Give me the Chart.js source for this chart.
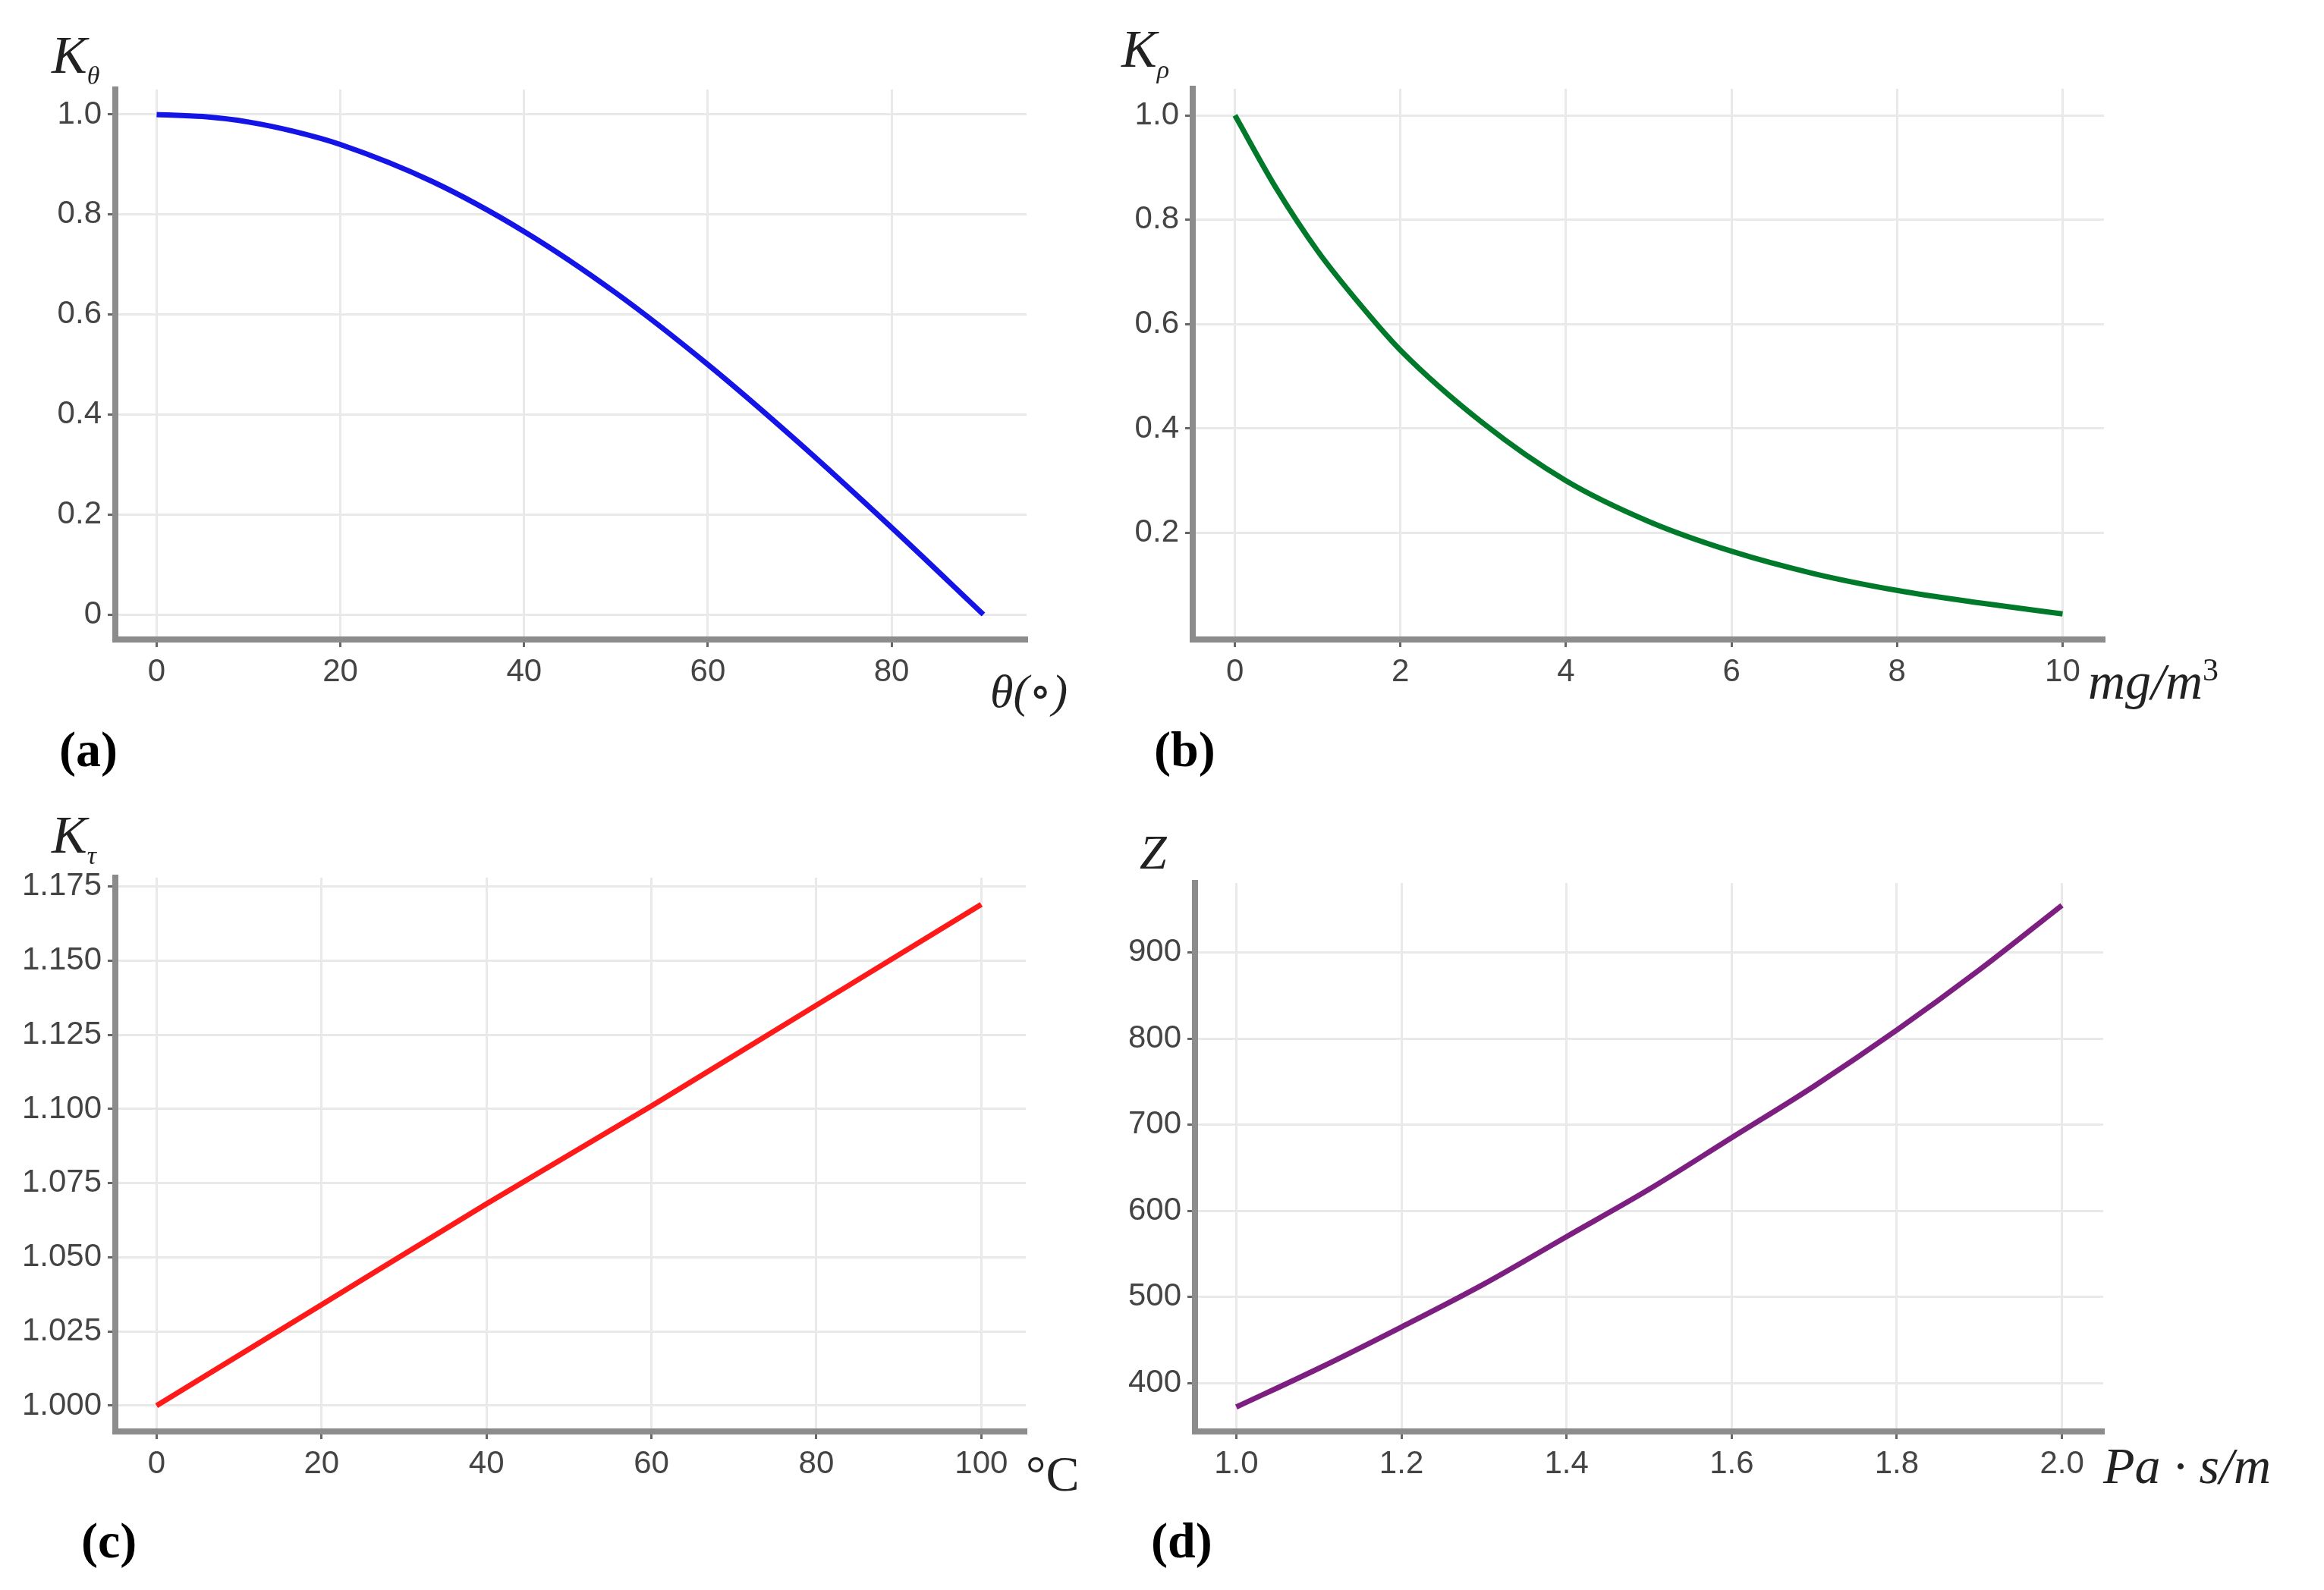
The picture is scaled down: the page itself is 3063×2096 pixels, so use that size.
<!DOCTYPE html>
<html><head><meta charset="utf-8">
<script src="https://cdn.jsdelivr.net/npm/chart.js@4"></script>
<style>
html,body{margin:0;padding:0;background:#fff;width:3063px;height:2096px;overflow:hidden;position:relative}
canvas{position:absolute}
.t{position:absolute;font-family:"Liberation Serif","DejaVu Serif",serif;color:#222;white-space:nowrap;line-height:1}
.it{font-style:italic}
.lab{font-weight:bold;font-size:66px;color:#000}
</style></head><body>
<script>
// ---- data ----
const angleX = [0,5,10,15,20,30,40,50,60,70,80,90];
const angleK = [1.0,0.996,0.985,0.966,0.94,0.866,0.766,0.643,0.5,0.342,0.174,0.0];
const dustX = [0,0.5,1,1.5,2,3,4,5,6,7,8,9,10];
const dustK = [1.0,0.86,0.74,0.64,0.55,0.41,0.30,0.222,0.165,0.122,0.09,0.066,0.045];
const tempX = [0,20,40,60,80,100];
const tempK = [1.000,1.034,1.068,1.101,1.135,1.169];
const viscX = [1.0,1.1,1.2,1.3,1.4,1.5,1.6,1.7,1.8,1.9,2.0];
const viscZ = [372,417,465,515,570,625,685,745,810,880,955];
const ticksAX=[0,20,40,60,80], ticksAY=[0,0.2,0.4,0.6,0.8,1.0];
const ticksBX=[0,2,4,6,8,10], ticksBY=[0.2,0.4,0.6,0.8,1.0];
const ticksCX=[0,20,40,60,80,100], ticksCY=[1.000,1.025,1.050,1.075,1.100,1.125,1.150,1.175];
const ticksDX=[1.0,1.2,1.4,1.6,1.8,2.0], ticksDY=[400,500,600,700,800,900];

const PAD=40, HX=80;
const panels=[
 {box:[152,118,1353,843],wy:130,x:angleX,y:angleK,c:'#1414e6',xr:[-4.5,94.7],yr:[-0.05,1.05],tx:ticksAX,ty:ticksAY,fx:v=>String(v),fy:v=>v===0?'0':v.toFixed(1)},
 {box:[1572,117,2773,843],wy:130,x:dustX,y:dustK,c:'#007a2a',xr:[-0.51,10.5],yr:[-0.004,1.051],tx:ticksBX,ty:ticksBY,fx:v=>String(v),fy:v=>v.toFixed(1)},
 {box:[152,1157,1352,1887],wy:140,x:tempX,y:tempK,c:'#ff1a1a',xr:[-5,105.4],yr:[0.9913,1.178],tx:ticksCX,ty:ticksCY,fx:v=>String(v),fy:v=>v.toFixed(3)},
 {box:[1575,1164,2772,1887],wy:130,x:viscX,y:viscZ,c:'#7d1f80',xr:[0.95,2.05],yr:[343.6,981],tx:ticksDX,ty:ticksDY,fx:v=>v.toFixed(1),fy:v=>String(v)}
];
const font={family:'"Liberation Sans","DejaVu Sans",sans-serif',size:42};
panels.forEach(p=>{
  const [l,t,r,b]=p.box;
  const cv=document.createElement('canvas');
  const left=l-p.wy-PAD, top=t-PAD, w=r+PAD-left, h=b+HX+PAD-top;
  cv.width=w;cv.height=h;cv.style.left=left+'px';cv.style.top=top+'px';
  cv.style.width=w+'px';cv.style.height=h+'px';
  document.body.appendChild(cv);
  new Chart(cv,{type:'line',
    data:{datasets:[{data:p.x.map((v,i)=>({x:v,y:p.y[i]})),borderColor:p.c,borderWidth:7,pointRadius:0,cubicInterpolationMode:'monotone',fill:false}]},
    options:{responsive:false,animation:false,devicePixelRatio:1,
      layout:{padding:PAD},
      plugins:{legend:{display:false},tooltip:{enabled:false}},
      scales:{
        x:{type:'linear',min:p.xr[0],max:p.xr[1],
          afterBuildTicks:s=>{s.ticks=p.tx.map(v=>({value:v}));},
          afterFit:s=>{s.height=HX;},
          ticks:{callback:p.fx,color:'#444',font,padding:8,maxRotation:0,autoSkip:false},
          grid:{color:'#e9e9e9',lineWidth:3,tickLength:10,tickColor:'#666',tickWidth:3},
          border:{display:true,color:'#8c8c8c',width:8}},
        y:{type:'linear',min:p.yr[0],max:p.yr[1],
          afterBuildTicks:s=>{s.ticks=p.ty.map(v=>({value:v}));},
          afterFit:s=>{s.width=p.wy;},
          ticks:{callback:p.fy,color:'#444',font,padding:8,autoSkip:false},
          grid:{color:'#e9e9e9',lineWidth:3,tickLength:10,tickColor:'#666',tickWidth:3},
          border:{display:true,color:'#8c8c8c',width:8}}
      }}});
});
const texts=[
 ['<span class="it">K</span><sub style="font-size:34px;font-style:italic">θ</sub>',68,38,70],
 ['<span class="it">K</span><sub style="font-size:34px;font-style:italic">ρ</sub>',1478,30,70],
 ['<span class="it">K</span><sub style="font-size:34px;font-style:italic">τ</sub>',68,1066,70],
 ['<span class="it">Z</span>',1502,1092,64],
 ['<span class="it">θ(∘)</span>',1305,880,62],
 ['<span class="it">mg/m</span><sup style="font-size:42px">3</sup>',2752,862,68],
 ['°C',1352,1910,66],
 ['<span class="it">Pa · s/m</span>',2772,1898,68],
];
texts.forEach(([h,x,y,s])=>{const d=document.createElement('div');d.className='t';d.innerHTML=h;d.style.left=x+'px';d.style.top=y+'px';d.style.fontSize=s+'px';document.body.appendChild(d);});
[['(a)',78,955],['(b)',1521,955],['(c)',107,1998],['(d)',1517,1998]].forEach(([s,x,y])=>{const d=document.createElement('div');d.className='t lab';d.textContent=s;d.style.left=x+'px';d.style.top=y+'px';document.body.appendChild(d);});
</script>
</body></html>
